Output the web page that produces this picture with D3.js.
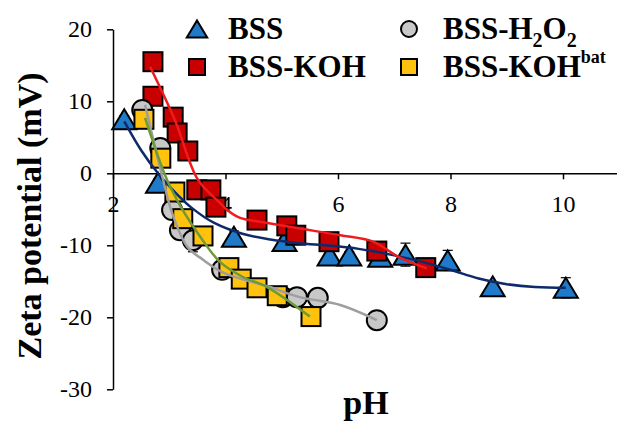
<!DOCTYPE html>
<html>
<head>
<meta charset="utf-8">
<script src="https://cdn.jsdelivr.net/npm/d3@7"></script>
<style>
  html, body { margin: 0; padding: 0; background: #ffffff; }
  svg { display: block; }
</style>
</head>
<body>
<script>
// ---------- data ----------
const xTicks = [2, 4, 6, 8, 10];
const yTicks = [20, 10, 0, -10, -20, -30];

// BSS (blue triangles)
const bssPH   = [2.2, 2.8, 4.15, 5.05, 5.85, 6.2, 6.75, 7.2, 7.95, 8.75, 10.05];
const bssZeta = [7.5, -1.3, -8.8, -9.4, -11.4, -11.4, -11.6, -11.3, -12.1, -15.7, -15.9];
const bssErr  = [0.5, 0.5, 0.8, 1.0, 0.5, 0.5, 0.5, 1.6, 1.4, 0.6, 1.4];
const bssFitPH   = [2.2, 2.5, 2.8, 3.1, 3.4, 3.8, 4.3, 4.8, 5.3, 5.8, 6.2, 6.6, 7.0, 7.5, 8.0, 8.5, 9.0, 9.5, 10.05];
const bssFitZeta = [7.2, 3.2, 0.0, -2.6, -4.8, -6.9, -8.4, -9.2, -9.7, -10.0, -10.3, -10.8, -11.4, -12.3, -13.4, -14.6, -15.4, -15.8, -15.9];

// BSS-KOH (red squares)
const kohPH   = [2.71, 2.71, 3.07, 3.14, 3.33, 3.49, 3.74, 3.83, 4.56, 5.09, 5.25, 5.84, 6.69, 7.56];
const kohZeta = [15.5, 10.7, 7.8, 5.6, 3.1, -2.3, -2.3, -4.7, -6.5, -7.3, -8.6, -9.5, -10.8, -13.1];
const kohErr  = [0.5, 0.5, 0.5, 0.5, 0.5, 0.5, 0.5, 0.8, 0.5, 0.5, 1.3, 0.5, 0.5, 0.5];
const kohFitPH   = [2.66, 3.1, 3.51, 3.9, 4.03, 4.26, 4.67, 5.27, 6.04, 6.62, 7.1, 7.58];
const kohFitZeta = [14.8, 7.4, -0.9, -4.1, -5.1, -6.2, -6.8, -7.6, -8.6, -9.5, -11.7, -13.2];

// BSS-H2O2 (grey circles)
const h2o2PH   = [2.52, 2.84, 3.05, 3.19, 3.42, 3.94, 5.02, 5.27, 5.64, 6.69];
const h2o2Zeta = [8.8, 3.5, -5.1, -7.9, -9.3, -13.4, -17.2, -17.2, -17.3, -20.4];
const h2o2Err  = [0.5, 0.5, 0.5, 0.5, 1.6, 0.5, 0.5, 0.5, 0.5, 0.5];
const h2o2FitPH   = [2.57, 2.89, 3.05, 3.32, 3.6, 3.96, 4.79, 5.32, 6.04, 6.69];
const h2o2FitZeta = [9.5, -0.9, -5.5, -10.2, -12.0, -13.8, -15.8, -17.2, -18.3, -20.4];

// BSS-KOHbat (yellow squares)
const batPH   = [2.55, 2.85, 3.10, 3.24, 3.6, 4.06, 4.28, 4.56, 4.92, 5.52];
const batZeta = [7.5, 2.1, -2.6, -6.3, -8.7, -13.1, -14.7, -15.9, -17.0, -19.9];
const batErr  = [0.5, 0.5, 0.5, 0.5, 0.5, 0.5, 0.5, 0.5, 0.5, 0.5];
const batFitPH   = [2.57, 2.96, 3.24, 3.55, 3.9, 4.31, 4.74, 5.5];
const batFitZeta = [7.7, -0.9, -5.1, -8.8, -12.3, -14.4, -15.8, -19.9];

// ---------- chart ----------
const W = 617, H = 421;
const FONT = "'Times New Roman', 'Liberation Serif', serif";

const svg = d3.select('body').append('svg').attr('width', W).attr('height', H);

const x = d3.scaleLinear().domain([2, 11]).range([113, 619.25]);
const y = d3.scaleLinear().domain([-30, 20]).range([389.3, 29.3]);

// axes
const gx = svg.append('g')
  .attr('transform', `translate(0,${y(0)})`)
  .call(d3.axisBottom(x).tickValues(xTicks).tickSize(6).tickSizeOuter(0).tickPadding(16).tickFormat(d3.format('d')));
const gy = svg.append('g')
  .attr('transform', `translate(${x(2)},0)`)
  .call(d3.axisLeft(y).tickValues(yTicks).tickSize(6).tickSizeOuter(0).tickPadding(15).tickFormat(d => d < 0 ? '-' + Math.abs(d) : String(d)));
[gx, gy].forEach(g => {
  g.attr('font-family', FONT).attr('font-size', 24);
  g.select('.domain').attr('stroke', '#000').attr('stroke-width', 1.5);
  g.selectAll('.tick line').attr('stroke', '#000').attr('stroke-width', 1.5);
  g.selectAll('.tick text').attr('fill', '#000');
});

// series definitions built from the arrays
const series = [
  { name: 'BSS', ph: bssPH, z: bssZeta, err: bssErr, fitPH: bssFitPH, fitZ: bssFitZeta, shape: 'tri', fill: '#1F7BC9', line: '#0E2A6B' },
  { name: 'BSS-KOH', ph: kohPH, z: kohZeta, err: kohErr, fitPH: kohFitPH, fitZ: kohFitZeta, shape: 'sq', fill: '#C80000', line: '#F21A1A' },
  { name: 'BSS-H2O2', ph: h2o2PH, z: h2o2Zeta, err: h2o2Err, fitPH: h2o2FitPH, fitZ: h2o2FitZeta, shape: 'circ', fill: '#C8C8C8', line: '#9E9E9E' },
  { name: 'BSS-KOHbat', ph: batPH, z: batZeta, err: batErr, fitPH: batFitPH, fitZ: batFitZeta, shape: 'sq', fill: '#FFC20E', line: '#6E9A3A' }
];

function drawMarker(g, shape, cx, cy, fill, size) {
  if (shape === 'tri') {
    const w = size * 1.2, h = size * 1.0;
    g.append('path')
      .attr('d', `M${cx},${cy - h / 2} L${cx + w / 2},${cy + h / 2} L${cx - w / 2},${cy + h / 2} Z`)
      .attr('fill', fill).attr('stroke', '#000').attr('stroke-width', 2).attr('stroke-linejoin', 'miter');
  } else if (shape === 'sq') {
    g.append('rect')
      .attr('x', cx - size / 2).attr('y', cy - size / 2).attr('width', size).attr('height', size)
      .attr('fill', fill).attr('stroke', '#000').attr('stroke-width', 2);
  } else {
    g.append('circle')
      .attr('cx', cx).attr('cy', cy).attr('r', size / 2)
      .attr('fill', fill).attr('stroke', '#000').attr('stroke-width', 2);
  }
}

// error bars
const gErr = svg.append('g');
series.forEach(s => {
  s.ph.forEach((p, i) => {
    const cx = x(p), e = s.err[i];
    gErr.append('line').attr('x1', cx).attr('x2', cx).attr('y1', y(s.z[i] - e)).attr('y2', y(s.z[i] + e))
      .attr('stroke', '#000').attr('stroke-width', 1.2);
    [s.z[i] - e, s.z[i] + e].forEach(v => {
      gErr.append('line').attr('x1', cx - 5).attr('x2', cx + 5).attr('y1', y(v)).attr('y2', y(v))
        .attr('stroke', '#000').attr('stroke-width', 1.2);
    });
  });
});

// markers
const gMarks = svg.append('g');
series.forEach(s => {
  const size = s.shape === 'tri' ? 20 : (s.shape === 'circ' ? 20 : 19);
  s.ph.forEach((p, i) => drawMarker(gMarks, s.shape, x(p), y(s.z[i]), s.fill, size));
});

// trend lines (drawn on top of the markers)
const line = d3.line().x(d => x(d[0])).y(d => y(d[1])).curve(d3.curveCatmullRom.alpha(0.5));
series.forEach(s => {
  svg.append('path')
    .attr('d', line(s.fitPH.map((p, i) => [p, s.fitZ[i]])))
    .attr('fill', 'none').attr('stroke', s.line).attr('stroke-width', 2.5);
});

// axis titles
svg.append('text')
  .attr('transform', 'translate(41,216) rotate(-90)')
  .attr('text-anchor', 'middle')
  .attr('font-family', FONT).attr('font-weight', 'bold').attr('font-size', 34)
  .text('Zeta potential (mV)');
svg.append('text')
  .attr('x', 366).attr('y', 414)
  .attr('text-anchor', 'middle')
  .attr('font-family', FONT).attr('font-weight', 'bold').attr('font-size', 34)
  .text('pH');

// legend
const legendX = [197, 409];
const legendTextX = [228, 443];
const legendY = [29, 67];
const legendBase = [39, 77];
const legendPos = [[0, 0], [0, 1], [1, 0], [1, 1]];
const gLeg = svg.append('g');
series.forEach((s, i) => {
  const [c, r] = legendPos[i];
  drawMarker(gLeg, s.shape, legendX[c], legendY[r], s.fill, s.shape === 'tri' ? 17 : 16);
  const t = gLeg.append('text')
    .attr('x', legendTextX[c]).attr('y', legendBase[r])
    .attr('font-family', FONT).attr('font-weight', 'bold').attr('font-size', 31).attr('fill', '#000');
  if (s.name === 'BSS-H2O2') {
    t.append('tspan').text('BSS-H');
    t.append('tspan').attr('font-size', 20).attr('dy', 8).text('2');
    t.append('tspan').attr('dy', -8).text('O');
    t.append('tspan').attr('font-size', 20).attr('dy', 8).text('2');
  } else if (s.name === 'BSS-KOHbat') {
    t.append('tspan').text('BSS-KOH');
    t.append('tspan').attr('font-size', 18).attr('dy', -14).text('bat');
  } else {
    t.text(s.name);
  }
});
</script>
</body>
</html>
